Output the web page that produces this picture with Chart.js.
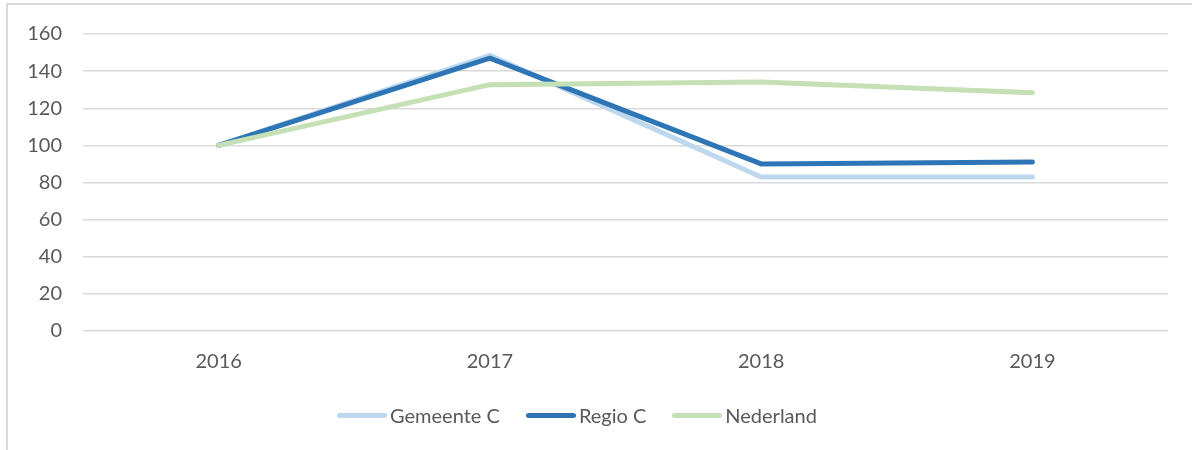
<!DOCTYPE html>
<html lang="nl">
<head>
    <meta charset="UTF-8">
    <title>Index 2016 = 100</title>
    <script src="https://cdn.jsdelivr.net/npm/chart.js"></script>
    <style>
        html, body { margin: 0; padding: 0; background: #fff; overflow: hidden; }
        .frame {
            position: absolute; left: 6px; top: 3px;
            width: 1200px; height: 460px;
            border: 2px solid #d9d9d9;
        }
        .chart { position: absolute; left: 0; top: 0; width: 1192px; height: 450px; }
        .legenda {
            position: absolute; left: 0; top: 403px; width: 1154px;
            display: flex; justify-content: center; align-items: center;
            font-family: Lato, "Open Sans", sans-serif; font-size: 20px; color: #595959;
            line-height: 24px;
        }
        .legenda .item { display: flex; align-items: center; margin: 0 13px; }
        .legenda .streep { width: 50px; height: 5px; border-radius: 3px; margin-right: 3px; }
    </style>
</head>
<body>
    <div class="frame"></div>
    <div class="chart">
        <canvas id="lineChart"></canvas>
    </div>
    <div class="legenda" id="legenda"></div>

    <script>
        const jaren = ["2016", "2017", "2018", "2019"];
        const gemeenteC = [100, 148.5, 83, 83];
        const regioC = [100, 147, 90, 91];
        const nederland = [100, 132.7, 134.1, 128.4];
        const yTicks = [0, 20, 40, 60, 80, 100, 120, 140, 160];

        const tekstKleur = '#595959';
        const rasterKleur = '#d9d9d9';
        const lettertype = { family: 'Lato, "Open Sans", sans-serif', size: 20 };

        function lijn(label, data, kleur) {
            return {
                label: label,
                data: data,
                borderColor: kleur,
                backgroundColor: kleur,
                borderWidth: 5,
                borderCapStyle: 'round',
                borderJoinStyle: 'round',
                pointRadius: 0,
                pointHoverRadius: 0,
                tension: 0,
                fill: false
            };
        }

        // Nederland eerst zodat die bovenop ligt; legenda omgekeerd
        const ctx = document.getElementById('lineChart').getContext('2d');
        const chart = new Chart(ctx, {
            type: 'line',
            data: {
                labels: jaren,
                datasets: [
                    lijn("Nederland", nederland, '#C5E0B4'),
                    lijn("Regio C", regioC, '#2E75B6'),
                    lijn("Gemeente C", gemeenteC, '#BDD7EE')
                ]
            },
            options: {
                responsive: true,
                maintainAspectRatio: false,
                animation: false,
                layout: { padding: { left: 13, right: 24, top: 34, bottom: 57 } },
                plugins: {
                    tooltip: { enabled: false },
                    legend: { display: false }
                },
                scales: {
                    x: {
                        offset: true,
                        grid: { display: false, drawTicks: false },
                        border: { display: false },
                        ticks: { color: tekstKleur, font: lettertype, padding: 19 },
                        afterFit: s => { s.height = 62; }
                    },
                    y: {
                        min: 0,
                        max: 160,
                        afterBuildTicks: s => { s.ticks = yTicks.map(v => ({ value: v })); },
                        grid: { color: rasterKleur, lineWidth: 1.5, drawTicks: false },
                        border: { display: false },
                        ticks: { color: tekstKleur, font: lettertype, padding: 21 },
                        afterFit: s => { s.width = 70; }
                    }
                }
            }
        });

        // legenda in gewone volgorde: Gemeente C, Regio C, Nederland
        const legenda = document.getElementById('legenda');
        chart.data.datasets.slice().reverse().forEach(ds => {
            const item = document.createElement('div');
            item.className = 'item';
            const streep = document.createElement('span');
            streep.className = 'streep';
            streep.style.background = ds.borderColor;
            const tekst = document.createElement('span');
            tekst.textContent = ds.label;
            item.appendChild(streep);
            item.appendChild(tekst);
            legenda.appendChild(item);
        });
    </script>
</body>
</html>
